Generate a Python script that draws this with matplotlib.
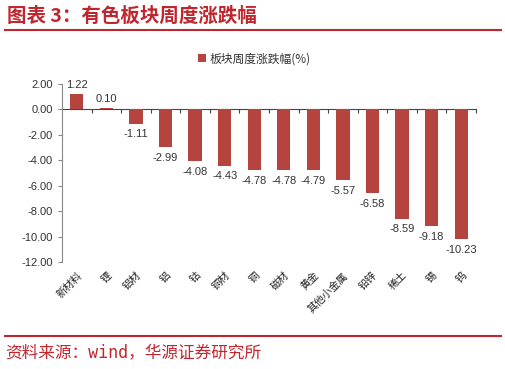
import matplotlib

matplotlib.use("Agg")
import matplotlib.pyplot as plt
import numpy as np

plt.rcParams["font.family"] = ["Liberation Sans", "Noto Sans CJK SC", "DejaVu Sans"]

categories = ["新材料", "锂", "铝材", "铝", "钴", "铜材", "铜", "磁材", "黄金",
              "其他小金属", "铅锌", "稀土", "锡", "钨"]
changes = [1.22, 0.10, -1.11, -2.99, -4.08, -4.43, -4.78, -4.78, -4.79,
           -5.57, -6.58, -8.59, -9.18, -10.23]
y_ticks = [2, 0, -2, -4, -6, -8, -10, -12]

RED = "#C0262D"
BAR = "#B5443F"
GREY = "#333333"
CJK = ["Noto Sans CJK SC", "DejaVu Sans"]


def main() -> None:
    fig = plt.figure(figsize=(5.06, 3.69), dpi=100)
    ax = fig.add_axes([0.1225, 0.29, 0.8182, 0.4824])

    x = np.arange(len(categories))
    bars = ax.bar(x, changes, width=0.45, color=BAR, label="板块周度涨跌幅(%)", zorder=2)

    for rect, v in zip(bars, changes):
        off, va = (3, "bottom") if v >= 0 else (-4, "top")
        ax.annotate(f"{v:.2f}", (rect.get_x() + rect.get_width() / 2, v),
                    xytext=(0, off), textcoords="offset points",
                    ha="center", va=va, fontsize=8, color=GREY)

    ax.set_xlim(-0.5, len(categories) - 0.5)
    ax.set_ylim(-12, 2)
    ax.set_yticks(y_ticks)
    ax.set_yticklabels([f"{t:.2f}" for t in y_ticks], fontsize=8, color=GREY)
    ax.tick_params(axis="y", length=3, color="#888888", width=0.8)

    for side in ["top", "right", "bottom"]:
        ax.spines[side].set_visible(False)
    ax.spines["left"].set_color("#888888")
    ax.spines["left"].set_linewidth(0.8)

    ax.set_xticks(x)
    ax.set_xticklabels(categories, rotation=45, ha="right", rotation_mode="anchor",
                       fontsize=7.5, color="#222222", family=CJK)
    ax.tick_params(axis="x", length=0, pad=6)

    # zero line with category-boundary ticks
    zero_pos = (0 - ax.get_ylim()[0]) / (ax.get_ylim()[1] - ax.get_ylim()[0])
    sec = ax.secondary_xaxis(zero_pos)
    sec.set_xticks(np.arange(0.5, len(categories)))
    sec.tick_params(axis="x", direction="in", length=3, color="#444444", width=0.8,
                    labelbottom=False, labeltop=False, top=True, bottom=False)
    for side in ["top", "bottom"]:
        sec.spines[side].set_color("#444444")
        sec.spines[side].set_linewidth(0.8)

    ax.legend(loc="lower center", bbox_to_anchor=(0.465, 1.045), frameon=False,
              prop={"family": CJK, "size": 8.5}, handlelength=0.7, handleheight=0.7,
              handletextpad=0.3, labelcolor=GREY)

    # header / footer
    fig.text(0.014, 0.955, "图表 3：有色板块周度涨跌幅", fontsize=14, fontweight="bold",
             color=RED, va="center", ha="left", family=CJK)
    fig.add_artist(plt.Line2D([0.01, 0.99], [0.918, 0.918], color=RED, lw=1.5))
    fig.add_artist(plt.Line2D([0.01, 0.99], [0.09, 0.09], color=RED, lw=1.5))
    fig.text(0.01, 0.045, "资料来源：wind，华源证券研究所", fontsize=12,
             color=RED, va="center", ha="left",
             family=["DejaVu Sans Mono", "Noto Sans CJK SC"])

    fig.savefig("out.png", dpi=100)


if __name__ == "__main__":
    main()
